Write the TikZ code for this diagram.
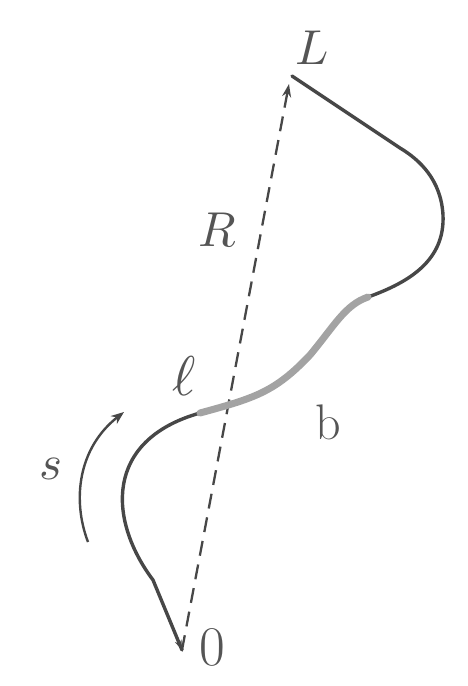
\documentclass[tikz,border=0pt]{standalone}
\usepackage{graphicx}
\usetikzlibrary{arrows.meta}
\definecolor{ink}{HTML}{474747}
\definecolor{hl}{HTML}{A3A3A3}
\definecolor{txt}{HTML}{555555}
\newcommand{\hugemath}[1]{\scalebox{4.9}{$#1$}}
\tikzset{
  curveline/.style={draw=ink,line width=3.4pt,line cap=round,line join=round},
  hlline/.style={draw=hl,line width=7pt,line cap=round},
  vecline/.style={draw=ink,line width=2.3pt,dash pattern=on 15pt off 9pt,-{Stealth[length=13pt,width=9pt]}},
  sarrow/.style={draw=ink,line width=2.4pt,-{Stealth[length=13pt,width=10pt]}},
  lbl/.style={text=txt,font=\fontsize{50}{58}\selectfont,inner sep=0pt},
  mlbl/.style={text=txt,font=\normalsize,inner sep=0pt},
}
\begin{document}
\begin{tikzpicture}[x=1pt,y=-1pt]
\useasboundingbox (0,0) rectangle (468,686);
% key points
\coordinate (O) at (182,650);
\coordinate (Lp) at (292,76);
\coordinate (A) at (200,413);
\coordinate (B) at (368,297);
\coordinate (K) at (153,580);
\coordinate (M) at (310,355);
\coordinate (P) at (443,215);
\coordinate (Q) at (400,148);
\coordinate (s0) at (88,542);
\coordinate (s1) at (124,412);
% vector R
\draw[vecline] (O) -- (289,84);
% curve, dark parts
\draw[curveline] (O) -- (K) .. controls (108,520) and (104,440) .. (A);
\draw[curveline] (B) .. controls (410,282) and (445,260) .. (P)
   .. controls (441,180) and (420,160) .. (Q) -- (Lp);
% highlighted piece b
\draw[hlline] (A) .. controls (255,398) and (275,392) .. (M)
   .. controls (335,325) and (345,305) .. (B);
% small tip at the origin
\draw[draw=ink,line width=2pt,-{Stealth[length=10pt,width=7pt]}] (K) -- (O);
% s arrow
\draw[sarrow] (s0) .. controls (72,500) and (78,448) .. (s1);
% labels
\node[mlbl] (labL) at (312,48) {\hugemath{L}};
\node[mlbl] (labR) at (217,230) {\hugemath{R}};
\node[mlbl] (labl) at (184,376) {\scalebox{5.6}{$\ell$}};
\node[mlbl] (labs) at (51,469) {\hugemath{s}};
\node[lbl] (labb) at (328,422) {b};
\node[lbl,font=\fontsize{56}{64}\selectfont] (lab0) at (212,647) {0};
\end{tikzpicture}
\end{document}
